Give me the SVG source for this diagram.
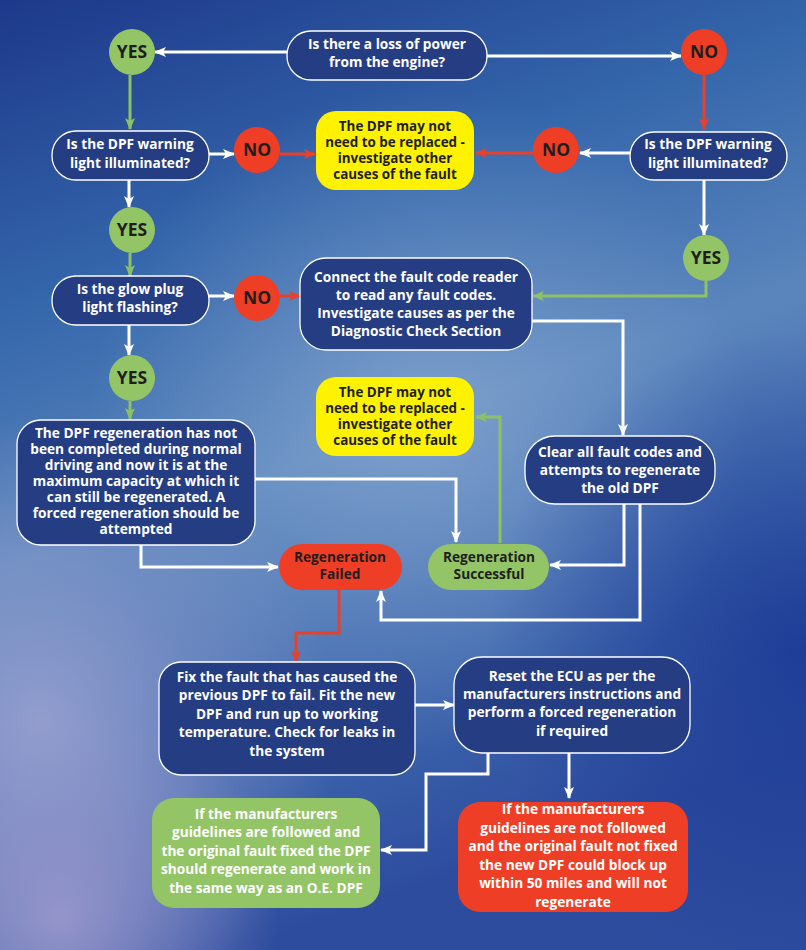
<svg xmlns="http://www.w3.org/2000/svg" width="806" height="950" viewBox="0 0 806 950">
<defs>
<linearGradient id="bg" x1="0" y1="0" x2="0.3" y2="1">
<stop offset="0" stop-color="#1d388a"/>
<stop offset="0.3" stop-color="#3466ab"/>
<stop offset="0.55" stop-color="#5a85bc"/>
<stop offset="0.8" stop-color="#3f68ae"/>
<stop offset="1" stop-color="#2d4c9e"/>
</linearGradient>
<radialGradient id="glow" cx="420" cy="420" r="330" gradientUnits="userSpaceOnUse">
<stop offset="0" stop-color="#a8c2e0" stop-opacity="0.45"/>
<stop offset="1" stop-color="#a8c2e0" stop-opacity="0"/>
</radialGradient>
<radialGradient id="lav" cx="40" cy="720" r="300" gradientUnits="userSpaceOnUse">
<stop offset="0" stop-color="#9ea4d2" stop-opacity="0.85"/>
<stop offset="1" stop-color="#9ea4d2" stop-opacity="0"/>
</radialGradient>
<radialGradient id="lav2" cx="60" cy="920" r="220" gradientUnits="userSpaceOnUse">
<stop offset="0" stop-color="#a49ed0" stop-opacity="0.8"/>
<stop offset="1" stop-color="#a49ed0" stop-opacity="0"/>
</radialGradient>
<radialGradient id="dark" cx="806" cy="650" r="320" gradientUnits="userSpaceOnUse">
<stop offset="0" stop-color="#1c3a95" stop-opacity="0.9"/>
<stop offset="1" stop-color="#1c3a95" stop-opacity="0"/>
</radialGradient>
<marker id="aw" markerWidth="12" markerHeight="10" refX="11" refY="5" orient="auto" markerUnits="userSpaceOnUse"><path d="M0,0 L12,5 L0,10 L3,5 z" fill="#ffffff"/></marker>
<marker id="ag" markerWidth="12" markerHeight="10" refX="11" refY="5" orient="auto" markerUnits="userSpaceOnUse"><path d="M0,0 L12,5 L0,10 L3,5 z" fill="#8dc163"/></marker>
<marker id="ar" markerWidth="12" markerHeight="10" refX="11" refY="5" orient="auto" markerUnits="userSpaceOnUse"><path d="M0,0 L12,5 L0,10 L3,5 z" fill="#e8402a"/></marker>
<style>
.n{fill:#253d82;stroke:#ffffff;stroke-width:1.3}
.y{fill:#fff200}
.r{fill:#ee3f26}
.g{fill:#93c466}
.t{font-family:"Open Sans","Noto Sans","Liberation Sans",sans-serif;font-weight:bold;font-size:13.7px;text-anchor:middle;fill:#ffffff}
.s{font-size:13.4px}
.d{fill:#1e1e1e}
.big{font-size:17.5px}
.cw{fill:none;stroke:#ffffff;stroke-width:3;marker-end:url(#aw)}
.cg{fill:none;stroke:#8dc163;stroke-width:3;marker-end:url(#ag)}
.cr{fill:none;stroke:#e8402a;stroke-width:3;marker-end:url(#ar)}
</style>
</defs>
<rect width="806" height="950" fill="url(#bg)"/>
<rect width="806" height="950" fill="url(#glow)"/>
<rect width="806" height="950" fill="url(#lav)"/>
<rect width="806" height="950" fill="url(#lav2)"/>
<rect width="806" height="950" fill="url(#dark)"/>

<g id="connectors">
<path class="cw" d="M287,52 H155"/>
<path class="cw" d="M487,56 H681"/>
<path class="cr" d="M704,75 V129"/>
<path class="cg" d="M130,75 V129"/>
<path class="cw" d="M630,153 H580"/>
<path class="cr" d="M533,153 H476"/>
<path class="cw" d="M209,154 H234"/>
<path class="cr" d="M280,154 H315"/>
<path class="cw" d="M129,180 V207"/>
<path class="cg" d="M130,253 V276"/>
<path class="cw" d="M704,180 V235"/>
<path class="cg" d="M706,281 V296 H533"/>
<path class="cw" d="M209,296 H234"/>
<path class="cr" d="M280,296 H300"/>
<path class="cw" d="M129,325 V355"/>
<path class="cg" d="M130,401 V419"/>
<path class="cw" d="M532,321 H623 V435"/>
<path class="cw" d="M255,479 H456 V542"/>
<path class="cw" d="M141,545 V567 H278"/>
<path class="cg" d="M500,543 V417 H476"/>
<path class="cw" d="M624,504 V565 H550"/>
<path class="cw" d="M640,504 V620 H381 V591"/>
<path class="cr" d="M339,590 V633 H296 V662"/>
<path class="cw" d="M415,705 H454"/>
<path class="cw" d="M488,753 V774 H426 V850 H381"/>
<path class="cw" d="M569,753 V798"/>
</g>

<g id="q1"><rect class="n" x="287" y="31" width="200" height="49" rx="24"/>
<text class="t" x="387" y="49">Is there a loss of power</text><text class="t" x="387" y="67">from the engine?</text></g>

<g id="yes1"><circle class="g" cx="132" cy="52" r="23"/><text class="t d big" x="132" y="58">YES</text></g>
<g id="no1"><circle class="r" cx="704" cy="52" r="23"/><text class="t d big" x="704" y="58">NO</text></g>

<g id="q2l"><rect class="n" x="52" y="131" width="157" height="49" rx="24"/>
<text class="t" x="130" y="149">Is the DPF warning</text><text class="t" x="130" y="168">light illuminated?</text></g>
<g id="no2l"><circle class="r" cx="257" cy="150" r="23"/><text class="t d big" x="257" y="156">NO</text></g>

<g id="y1"><rect class="y" x="316" y="111" width="158" height="79" rx="20"/>
<text class="t d s" x="395" y="131">The DPF may not</text><text class="t d s" x="395" y="147">need to be replaced -</text><text class="t d s" x="395" y="163">investigate other</text><text class="t d s" x="395" y="179">causes of the fault</text></g>

<g id="no2r"><circle class="r" cx="556" cy="150" r="23"/><text class="t d big" x="556" y="156">NO</text></g>
<g id="q2r"><rect class="n" x="630" y="132" width="157" height="48" rx="24"/>
<text class="t" x="708" y="149">Is the DPF warning</text><text class="t" x="708" y="168">light illuminated?</text></g>

<g id="yes2"><circle class="g" cx="132" cy="230" r="23"/><text class="t d big" x="132" y="236">YES</text></g>
<g id="yes2r"><circle class="g" cx="706" cy="258" r="23"/><text class="t d big" x="706" y="264">YES</text></g>

<g id="q3"><rect class="n" x="52" y="276" width="157" height="49" rx="24"/>
<text class="t" x="130" y="294">Is the glow plug</text><text class="t" x="130" y="312">light flashing?</text></g>
<g id="no3"><circle class="r" cx="257" cy="298" r="23"/><text class="t d big" x="257" y="304">NO</text></g>

<g id="connect"><rect class="n" x="300" y="258" width="232" height="92" rx="26"/>
<text class="t" x="416" y="282">Connect the fault code reader</text><text class="t" x="416" y="300">to read any fault codes.</text><text class="t" x="416" y="318">Investigate causes as per the</text><text class="t" x="416" y="336">Diagnostic Check Section</text></g>

<g id="yes3"><circle class="g" cx="132" cy="378" r="23"/><text class="t d big" x="132" y="384">YES</text></g>

<g id="y2"><rect class="y" x="316" y="377" width="158" height="79" rx="20"/>
<text class="t d s" x="395" y="397">The DPF may not</text><text class="t d s" x="395" y="413">need to be replaced -</text><text class="t d s" x="395" y="429">investigate other</text><text class="t d s" x="395" y="445">causes of the fault</text></g>

<g id="regen"><rect class="n" x="17" y="420" width="238" height="125" rx="24"/>
<text class="t" x="136" y="438">The DPF regeneration has not</text><text class="t" x="136" y="454">been completed during normal</text><text class="t" x="136" y="470">driving and now it is at the</text><text class="t" x="136" y="486">maximum capacity at which it</text><text class="t" x="136" y="502">can still be regenerated. A</text><text class="t" x="136" y="518">forced regeneration should be</text><text class="t" x="136" y="534">attempted</text></g>

<g id="clear"><rect class="n" x="525" y="436" width="190" height="68" rx="30"/>
<text class="t" x="620" y="457">Clear all fault codes and</text><text class="t" x="620" y="475">attempts to regenerate</text><text class="t" x="620" y="493">the old DPF</text></g>

<g id="failed"><rect class="r" x="279" y="544" width="123" height="46" rx="23"/>
<text class="t d" x="340" y="562">Regeneration</text><text class="t d" x="340" y="579">Failed</text></g>
<g id="success"><rect class="g" x="428" y="544" width="121" height="46" rx="23"/>
<text class="t d" x="489" y="562">Regeneration</text><text class="t d" x="489" y="579">Successful</text></g>

<g id="fix"><rect class="n" x="159" y="662" width="256" height="113" rx="22"/>
<text class="t" x="287" y="682">Fix the fault that has caused the</text><text class="t" x="287" y="700">previous DPF to fail. Fit the new</text><text class="t" x="287" y="719">DPF and run up to working</text><text class="t" x="287" y="737">temperature. Check for leaks in</text><text class="t" x="287" y="756">the system</text></g>

<g id="reset"><rect class="n" x="454" y="657" width="236" height="96" rx="28"/>
<text class="t" x="572" y="681">Reset the ECU as per the</text><text class="t" x="572" y="699">manufacturers instructions and</text><text class="t" x="572" y="717">perform a forced regeneration</text><text class="t" x="572" y="736">if required</text></g>

<g id="good"><rect class="g" x="152" y="798" width="228" height="110" rx="22"/>
<text class="t" x="266" y="819">If the manufacturers</text><text class="t" x="266" y="837">guidelines are followed and</text><text class="t" x="266" y="856">the original fault fixed the DPF</text><text class="t" x="266" y="874">should regenerate and work in</text><text class="t" x="266" y="893">the same way as an O.E. DPF</text></g>

<g id="bad"><rect class="r" x="458" y="802" width="230" height="110" rx="22"/>
<text class="t" x="573" y="814">If the manufacturers</text><text class="t" x="573" y="833">guidelines are not followed</text><text class="t" x="573" y="851">and the original fault not fixed</text><text class="t" x="573" y="870">the new DPF could block up</text><text class="t" x="573" y="888">within 50 miles and will not</text><text class="t" x="573" y="907">regenerate</text></g>
</svg>
